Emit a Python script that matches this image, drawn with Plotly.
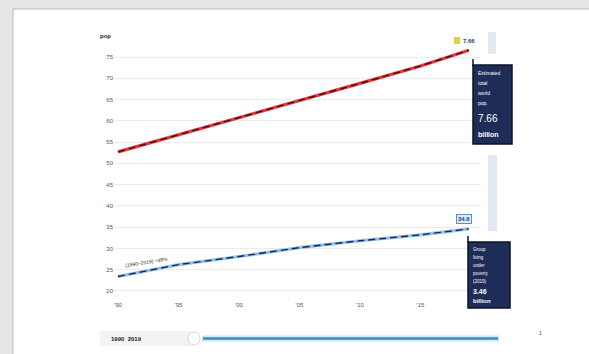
import plotly.graph_objects as go

# World population vs. a sub-group, in hundreds of millions
years = [1990, 1995, 2000, 2005, 2010, 2015, 2019]
world_pop = [52.7, 56.7, 60.8, 64.8, 68.8, 72.9, 76.6]
group_pop = [23.4, 26.2, 28.1, 30.2, 31.8, 33.2, 34.6]

y_ticks = [20, 25, 30, 35, 40, 45, 50, 55, 60, 65, 70, 75]
x_ticks = [1990, 1995, 2000, 2005, 2010, 2015]
x_tick_text = ["'90", "'95", "'00", "'05", "'10", "'15"]

world_box_lines = ["Estimated", "total", "world", "pop.", "7.66", "billion"]
group_box_lines = ["Group", "living", "under", "poverty", "(2019)", "3.46", "billion"]

W, H = 589, 354
ML, MR, MT, MB = 114, 108, 45, 54
PW, PH = W - ML - MR, H - MT - MB


def px(x):
    return (x - ML) / PW


def py(y):
    return (H - MB - y) / PH


fig = go.Figure()

# red world line: colour band with dark dashes on top
fig.add_trace(go.Scatter(x=years, y=world_pop, mode="lines",
                         line=dict(color="#e8363a", width=3.2), hoverinfo="skip"))
fig.add_trace(go.Scatter(x=years, y=world_pop, mode="lines",
                         line=dict(color="#3a1418", width=1.4, dash="7px,4px"), hoverinfo="skip"))
# blue group line
fig.add_trace(go.Scatter(x=years, y=group_pop, mode="lines",
                         line=dict(color="#8fc3ee", width=3.2), hoverinfo="skip"))
fig.add_trace(go.Scatter(x=years, y=group_pop, mode="lines",
                         line=dict(color="#16264f", width=1.4, dash="7px,4px"), hoverinfo="skip"))

shapes = [
    # white card on grey page
    dict(type="rect", xref="paper", yref="paper", layer="below",
         x0=px(13), x1=px(600), y0=py(9), y1=py(360),
         fillcolor="white", line=dict(color="#b9b9b9", width=1)),
    # pale vertical rails on the right
    dict(type="rect", xref="paper", yref="paper", layer="below",
         x0=px(488), x1=px(496), y0=py(32), y1=py(54),
         fillcolor="#e4e8f2", line=dict(width=0)),
    dict(type="rect", xref="paper", yref="paper", layer="below",
         x0=px(488), x1=px(497), y0=py(155), y1=py(231),
         fillcolor="#e4e8f2", line=dict(width=0)),
    # dark callout boxes
    dict(type="rect", xref="paper", yref="paper",
         x0=px(473), x1=px(512), y0=py(65), y1=py(144),
         fillcolor="#1e2c58", line=dict(color="#0c1228", width=1.5)),
    dict(type="line", xref="paper", yref="paper",
         x0=px(473), x1=px(473), y0=py(59), y1=py(66),
         line=dict(color="#0c1228", width=1.5)),
    dict(type="rect", xref="paper", yref="paper",
         x0=px(468), x1=px(510), y0=py(242), y1=py(308),
         fillcolor="#1e2c58", line=dict(color="#0c1228", width=1.5)),
    dict(type="line", xref="paper", yref="paper",
         x0=px(468), x1=px(468), y0=py(236), y1=py(243),
         line=dict(color="#0c1228", width=1.5)),
    # yellow marker beside the red end label
    dict(type="rect", xref="paper", yref="paper",
         x0=px(454), x1=px(460), y0=py(37), y1=py(44),
         fillcolor="#e2d23a", line=dict(width=0)),
    # range slider
    dict(type="rect", xref="paper", yref="paper", layer="below",
         x0=px(100), x1=px(192), y0=py(331), y1=py(346),
         fillcolor="#f3f3f3", line=dict(width=0)),
    dict(type="line", xref="paper", yref="paper",
         x0=px(202), x1=px(499), y0=py(338.5), y1=py(338.5),
         line=dict(color="#cfe8f7", width=6)),
    dict(type="line", xref="paper", yref="paper",
         x0=px(203), x1=px(498), y0=py(338.5), y1=py(338.5),
         line=dict(color="#3d8cc4", width=2.6)),
    dict(type="circle", xref="paper", yref="paper",
         x0=px(188), x1=px(200), y0=py(332), y1=py(345),
         fillcolor="white", line=dict(color="#d6d6d6", width=1)),
]

ann = []


def note(x, y, text, size=5, color="#333", xanchor="center", **kw):
    ann.append(dict(xref="paper", yref="paper", x=px(x), y=py(y), text=text,
                    xanchor=xanchor, yanchor="middle", showarrow=False,
                    font=dict(size=size, color=color, family="Liberation Sans"), **kw))


note(105, 36, "<b>pop</b>", size=6, color="#1a1a2e")
note(469, 40.5, "<b>7.66</b>", size=6, color="#1e3f78")
note(464, 218.5, "<b>34.6</b>", size=6, color="#1e3f78",
     bgcolor="#dce9f8", bordercolor="#5a8fc8", borderwidth=1, borderpad=1)
note(146, 262, "(1990–2019) +48%", size=5, color="#3a3a10", textangle=-9)

# callout texts, one line per annotation
world_rows = [73, 83, 93, 103, 118, 134]
world_sizes = [5, 5, 5, 5, 10, 7]
for txt, yy, sz in zip(world_box_lines, world_rows, world_sizes):
    t = f"<b>{txt}</b>" if sz == 7 else txt
    note(476, yy, t, size=sz, color="white", xanchor="left")

group_rows = [249, 257, 265, 273, 281, 291, 301]
group_sizes = [4.5, 4.5, 4.5, 4.5, 4.5, 7, 6]
for txt, yy, sz in zip(group_box_lines, group_rows, group_sizes):
    t = f"<b>{txt}</b>" if sz >= 6 else txt
    note(471, yy, t, size=sz, color="white", xanchor="left")

note(126, 338.5, "<b>1990  2019</b>", size=6, color="#222")
note(540, 333, "1", size=5, color="#444")

fig.update_layout(
    width=W, height=H,
    margin=dict(l=ML, r=MR, t=MT, b=MB),
    paper_bgcolor="#e6e6e6",
    plot_bgcolor="rgba(0,0,0,0)",
    showlegend=False,
    shapes=shapes,
    annotations=ann,
    xaxis=dict(range=[1989.67, 2020.0], tickvals=x_ticks, ticktext=x_tick_text,
               showgrid=False, zeroline=False, showline=False, ticks="",
               tickfont=dict(size=6, color="#555", family="Liberation Sans")),
    yaxis=dict(range=[17.88, 77.82], tickvals=y_ticks,
               showgrid=True, gridcolor="#ececec", gridwidth=1,
               zeroline=False, showline=False, ticks="",
               tickfont=dict(size=6, color="#555", family="Liberation Sans")),
)

fig.write_html("out.html")
